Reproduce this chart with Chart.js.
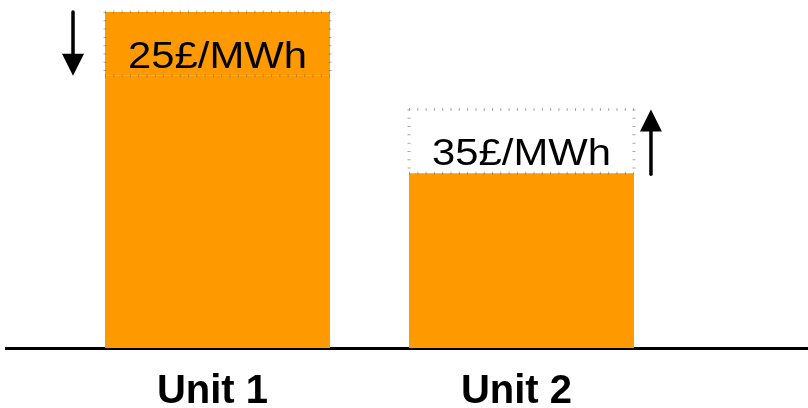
<!DOCTYPE html>
<html>
<head>
<meta charset="utf-8">
<script src="https://cdn.jsdelivr.net/npm/chart.js@4.4.0/dist/chart.umd.min.js"></script>
<style>
  html, body { margin: 0; padding: 0; background: #fff; }
  #wrap { width: 808px; height: 408px; }
</style>
</head>
<body>
<div id="wrap"><canvas id="c" width="808" height="408"></canvas></div>
<script>
// ---- data ----
const categories = ['Unit 1', 'Unit 2'];
const solidValues = [81, 52];        // solid orange part of each bar
const rangeTop = [100, 71];          // top of the dotted (changing) part
const priceLabels = ['25£/MWh', '35£/MWh'];
const changeDirection = ['down', 'up'];

const ORANGE = '#FF9900';

const xPos = categories.map((c, i) => i + 1);

const dottedBoxPlugin = {
  id: 'dottedBox',
  afterDatasetsDraw(chart) {
    const ctx = chart.ctx;
    const meta = chart.getDatasetMeta(1);
    meta.data.forEach((el, i) => {
      const p = el.getProps(['x', 'y', 'base', 'width'], true);
      const left = p.x - p.width / 2, right = p.x + p.width / 2;
      const top = Math.min(p.y, p.base), bottom = Math.max(p.y, p.base);
      ctx.save();
      ctx.strokeStyle = 'rgba(110,110,110,0.6)';
      ctx.lineWidth = 3;
      ctx.setLineDash([1, 7.3]);
      ctx.beginPath();
      ctx.moveTo(left, top); ctx.lineTo(right, top);
      ctx.moveTo(left, bottom); ctx.lineTo(right, bottom);
      ctx.moveTo(left, top); ctx.lineTo(left, bottom);
      ctx.moveTo(right, top); ctx.lineTo(right, bottom);
      ctx.stroke();
      ctx.restore();

      // price label
      ctx.save();
      ctx.fillStyle = '#000';
      ctx.font = '37px "Liberation Sans", Arial, sans-serif';
      ctx.textAlign = 'center';
      ctx.textBaseline = 'alphabetic';
      ctx.translate(p.x, bottom - 8);
      ctx.scale(1.13, 1);
      ctx.fillText(priceLabels[i], 0, 0);
      ctx.restore();

      // arrow
      const ax = changeDirection[i] === 'down' ? left - 32 : right + 17;
      const headH = 22, headW = 11;
      ctx.save();
      ctx.strokeStyle = '#000';
      ctx.fillStyle = '#000';
      ctx.lineWidth = 3.5;
      ctx.lineCap = 'round';
      ctx.beginPath();
      if (changeDirection[i] === 'down') {
        const tip = bottom;
        ctx.moveTo(ax, top);
        ctx.lineTo(ax, tip - headH + 2);
        ctx.stroke();
        ctx.beginPath();
        ctx.moveTo(ax - headW, tip - headH);
        ctx.lineTo(ax + headW, tip - headH);
        ctx.lineTo(ax, tip);
        ctx.closePath();
        ctx.fill();
      } else {
        const tip = top;
        ctx.moveTo(ax, bottom + 1);
        ctx.lineTo(ax, tip + headH - 2);
        ctx.stroke();
        ctx.beginPath();
        ctx.moveTo(ax - headW, tip + headH);
        ctx.lineTo(ax + headW, tip + headH);
        ctx.lineTo(ax, tip);
        ctx.closePath();
        ctx.fill();
      }
      ctx.restore();
    });
  }
};

new Chart(document.getElementById('c'), {
  type: 'bar',
  data: {
    datasets: [
      {
        data: xPos.map((x, i) => ({ x, y: solidValues[i] })),
        backgroundColor: ORANGE,
        borderWidth: 0
      },
      {
        data: xPos.map((x, i) => ({ x, y: [solidValues[i], rangeTop[i]] })),
        backgroundColor: [ORANGE, 'rgba(255,255,255,0)'],
        borderWidth: 0
      }
    ]
  },
  options: {
    responsive: false,
    animation: false,
    grouped: false,
    barPercentage: 0.74,
    categoryPercentage: 1,
    layout: { padding: { left: 6, right: 0, top: 12, bottom: 0 } },
    plugins: { legend: { display: false }, tooltip: { enabled: false } },
    scales: {
      x: {
        type: 'linear',
        offset: false,
        min: 0.3043,
        max: 2.9425,
        grid: { display: false, drawTicks: false, offset: false },
        border: { display: true, color: '#000', width: 3 },
        afterBuildTicks(scale) { scale.ticks = xPos.map(v => ({ value: v })); },
        afterFit(scale) { scale.height = 60; },
        ticks: {
          padding: 20,
          labelOffset: -5,
          color: '#000',
          font: { family: '"Liberation Sans", Arial, sans-serif', size: 40, weight: 'bold' },
          callback: (v) => categories[v - 1] || ''
        }
      },
      y: {
        display: false,
        min: 0,
        max: 100
      }
    }
  },
  plugins: [dottedBoxPlugin]
});
</script>
</body>
</html>
